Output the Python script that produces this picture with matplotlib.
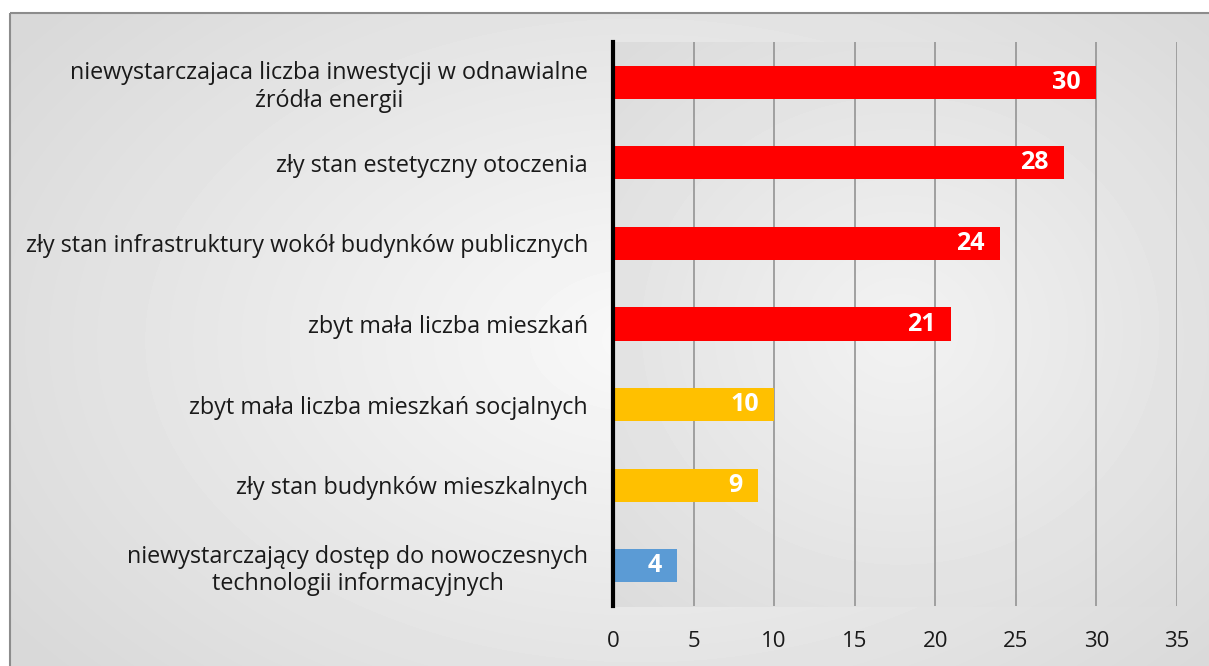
import numpy as np
import matplotlib.pyplot as plt
from matplotlib.patches import Rectangle

plt.rcParams['font.family'] = ['Open Sans', 'DejaVu Sans']

categories = [
    "niewystarczajaca liczba inwestycji w odnawialne\nźródła energii",
    "zły stan estetyczny otoczenia",
    "zły stan infrastruktury wokół budynków publicznych",
    "zbyt mała liczba mieszkań",
    "zbyt mała liczba mieszkań socjalnych",
    "zły stan budynków mieszkalnych",
    "niewystarczający dostęp do nowoczesnych\ntechnologii informacyjnych",
]
values = [30, 28, 24, 21, 10, 9, 4]
colors = ["#FF0000", "#FF0000", "#FF0000", "#FF0000", "#FFC000", "#FFC000", "#5B9BD5"]
xticks = [0, 5, 10, 15, 20, 25, 30, 35]

W, H = 1209, 666
fig = plt.figure(figsize=(W / 100, H / 100), dpi=100)

# background: light centre, darker towards the corners
bg = fig.add_axes([0, 0, 1, 1], zorder=-10)
yy, xx = np.mgrid[0:H, 0:W]
d = np.sqrt(((xx - 640) / 800.0) ** 2 + ((yy - 340) / 520.0) ** 2)
shade = np.clip(0.975 - 0.13 * d, 0.85, 0.975)
# plot area has its own slightly darker gradient
px0, px1, py0, py1 = 613, 1177, 42, 606
inside = (xx >= px0) & (xx <= px1) & (yy >= py0) & (yy <= py1)
dp = np.sqrt(((xx - 900) / 420.0) ** 2 + ((yy - 330) / 380.0) ** 2)
shade_p = np.clip(0.95 - 0.09 * dp, 0.86, 0.95)
shade = np.where(inside, shade_p, shade)
bg.imshow(shade, cmap='gray', vmin=0, vmax=1, aspect='auto', extent=[0, W, H, 0])
bg.imshow(np.ones((13, W)), cmap='gray', vmin=0, vmax=1, aspect='auto', extent=[0, W, 13, 0])
bg.imshow(np.ones((H, 10)), cmap='gray', vmin=0, vmax=1, aspect='auto', extent=[0, 10, H, 0])
bg.add_patch(Rectangle((10, 13), W, H, fill=False, edgecolor='#8c8c8c', lw=1.5))
bg.set_xlim(0, W)
bg.set_ylim(H, 0)
bg.axis('off')

ax = fig.add_axes([px0 / W, 1 - py1 / H, (px1 - px0) / W, (py1 - py0) / H])
ax.patch.set_alpha(0)

y = np.arange(len(values))
ax.barh(y, values, height=0.41, color=colors, zorder=3)
for yi, v in zip(y, values):
    ax.text(v - 0.95, yi, str(v), ha='right', va='center', color='white',
            fontsize=18, fontweight='bold', zorder=4)

ax.set_xlim(0, 35)
ax.set_ylim(len(values) - 0.5, -0.5)
ax.set_xticks(xticks)
ax.set_yticks(y)
ax.set_yticklabels(categories, fontsize=16.8, linespacing=1.2, color='#1a1a1a')
for lbl in ax.get_yticklabels():
    lbl.set_horizontalalignment('right')
    lbl.set_multialignment('center')
ax.tick_params(axis='x', labelsize=16, length=0, pad=18, colors='#1a1a1a')
ax.tick_params(axis='y', length=0, pad=18)
ax.xaxis.grid(True, color='#9a9a9a', lw=1.3, zorder=0)
for s in ['top', 'right', 'bottom']:
    ax.spines[s].set_visible(False)
ax.spines['left'].set_linewidth(3)
ax.spines['left'].set_color('black')
ax.spines['left'].set_zorder(5)

fig.savefig('out.png', dpi=100)
